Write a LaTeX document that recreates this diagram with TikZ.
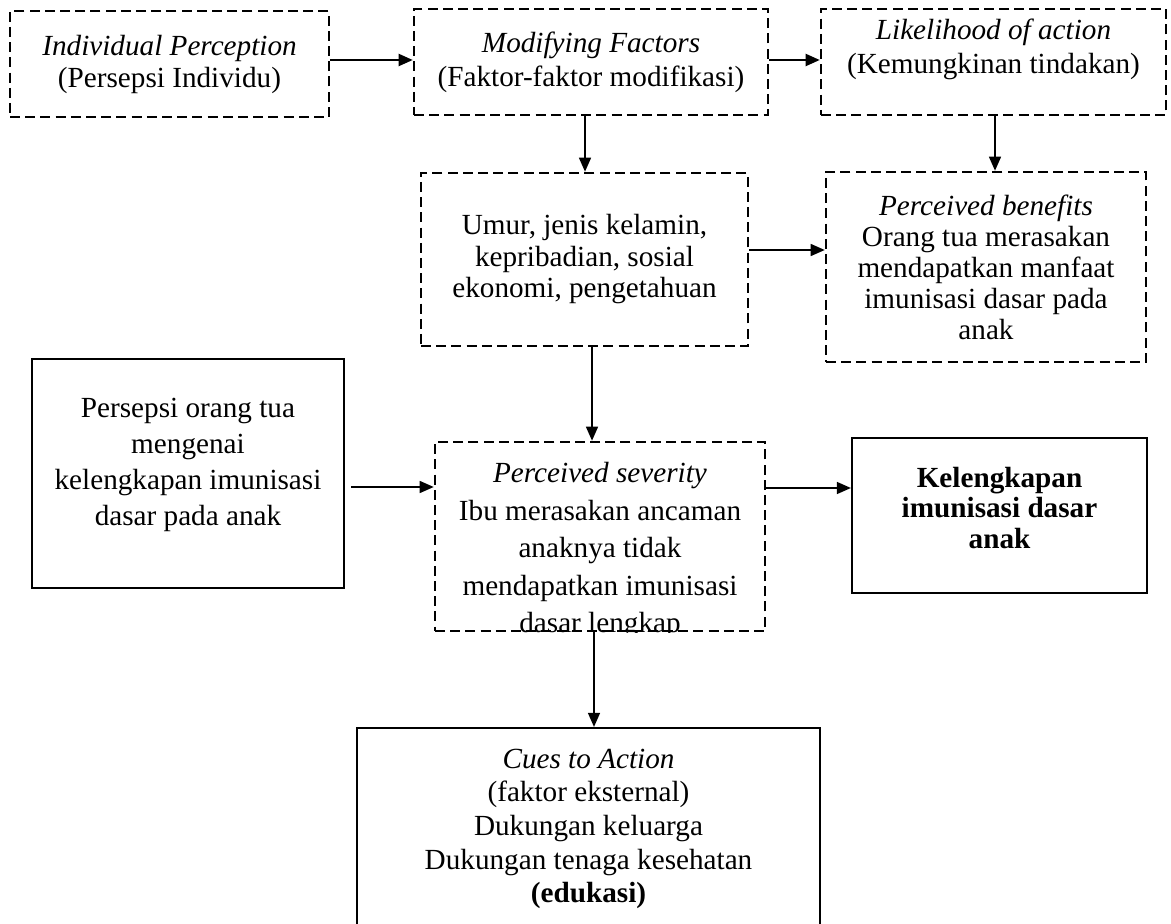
\documentclass[tikz,border=0pt]{standalone}
\usepackage{fontspec}
\setmainfont{Liberation Serif}
\usetikzlibrary{arrows.meta}
\newlength{\unitpx}
\setlength{\unitpx}{0.5pt}

\begin{document}
\begin{tikzpicture}[x=1\unitpx,y=-1\unitpx,
  txt/.style={align=center,inner sep=0pt,font=\fontsize{14.6}{#1\unitpx}\selectfont},
  box/.style n args={3}{draw,rectangle,line width=1.1pt,minimum width=#1\unitpx,minimum height=#2\unitpx,txt=#3},
  dbox/.style n args={3}{box={#1}{#2}{#3},line width=1.3pt,dash pattern=on 5pt off 2.6pt},
  arr/.style={-{Triangle[length=7pt,width=6pt]},line width=0.7pt}]
\clip (0,0) rectangle (1171,924);
\node[dbox={319}{106}{32}] (indiv) at (169.5,64) {\textit{Individual Perception}\\(Persepsi Individu)};
\node[dbox={354}{106}{34}] (modif) at (591,62) {\textit{Modifying Factors}\\(Faktor-faktor modifikasi)};
\node[dbox={345}{106}{34}] (likely) at (993.5,62) {};
\node[txt=34] (likelytxt) at (993.5,49) {\textit{Likelihood of action}\\(Kemungkinan tindakan)};
\node[dbox={327}{173}{31.5}] (umur) at (584.5,259.5) {Umur, jenis kelamin,\\kepribadian, sosial\\ekonomi, pengetahuan};
\node[dbox={320}{190}{31}] (benef) at (986,267) {\textit{Perceived benefits}\\Orang tua merasakan\\mendapatkan manfaat\\imunisasi dasar pada\\anak};
\node[box={312}{229}{36}] (persep) at (188,473.5) {};
\node[txt=36] (perseptxt) at (188,465) {Persepsi orang tua\\mengenai\\kelengkapan imunisasi\\dasar pada anak};
\node[dbox={330}{189}{37.5}] (sever) at (600,536.5) {};
\begin{scope}
\clip (sever.north west) rectangle (sever.south east);
\node[txt=37.5] (severtxt) at (600,551) {\textit{Perceived severity}\\Ibu merasakan ancaman\\anaknya tidak\\mendapatkan imunisasi\\dasar lengkap};
\end{scope}
\node[box={295}{155}{30.5}] (lengkap) at (999.5,515.5) {};
\node[txt=30.5] (lengkaptxt) at (999.5,508) {\textbf{Kelengkapan}\\\textbf{imunisasi dasar}\\\textbf{anak}};
\node[box={463}{202}{33.7}] (cues) at (588.5,829) {\textit{Cues to Action}\\(faktor eksternal)\\Dukungan keluarga\\Dukungan tenaga kesehatan\\\textbf{(edukasi)}};
\draw[arr,line width=1pt] (indiv.east |- 0,60) -- (modif.west |- 0,60);
\draw[arr,line width=1pt] (modif.east |- 0,60) -- (likely.west |- 0,60);
\draw[arr] (modif.south -| 585,0) -- (umur.north -| 585,0);
\draw[arr] (likely.south -| 995,0) -- (benef.north -| 995,0);
\draw[arr] (umur.east |- 0,250) -- (benef.west |- 0,250);
\draw[arr] (umur.south -| 592,0) -- (sever.north -| 592,0);
\draw[arr,shorten <=3pt] (persep.east |- 0,487) -- (sever.west |- 0,487);
\draw[arr] (sever.east |- 0,488) -- (lengkap.west |- 0,488);
\draw[arr] (sever.south -| 594,0) -- (cues.north -| 594,0);
\end{tikzpicture}
\end{document}
